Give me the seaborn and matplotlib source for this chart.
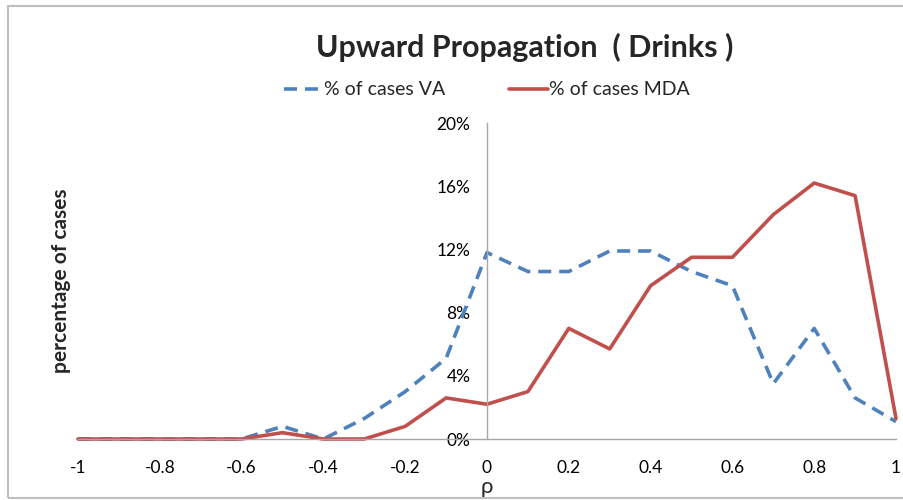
import numpy as np
import pandas as pd
import matplotlib
matplotlib.use("Agg")
import matplotlib.pyplot as plt
from matplotlib.ticker import PercentFormatter
from matplotlib.patches import Rectangle
import seaborn as sns

# data
rho = [-1.0, -0.9, -0.8, -0.7, -0.6, -0.5, -0.4, -0.3, -0.2, -0.1, 0.0,
       0.1, 0.2, 0.3, 0.4, 0.5, 0.6, 0.7, 0.8, 0.9, 1.0]
va_pct = [0.0, 0.0, 0.0, 0.0, 0.0, 0.8, 0.0, 1.3, 3.0, 5.1, 11.8,
          10.6, 10.6, 11.9, 11.9, 10.6, 9.7, 3.5, 7.0, 2.6, 1.1]
mda_pct = [0.0, 0.0, 0.0, 0.0, 0.0, 0.4, 0.0, 0.0, 0.8, 2.6, 2.2,
           3.0, 7.0, 5.7, 9.7, 11.5, 11.5, 14.2, 16.2, 15.4, 1.3]
x_ticks = [-1, -0.8, -0.6, -0.4, -0.2, 0, 0.2, 0.4, 0.6, 0.8, 1]
x_labels = ["-1", "-0.8", "-0.6", "-0.4", "-0.2", "0", "0.2", "0.4", "0.6", "0.8", "1"]
y_ticks = [0, 0.04, 0.08, 0.12, 0.16, 0.20]

df = pd.DataFrame({
    "rho": rho,
    "va": np.array(va_pct) / 100,
    "mda": np.array(mda_pct) / 100,
})

sns.set_style("white")
plt.rcParams["font.family"] = ["Lato", "DejaVu Sans"]

blue = "#4F81BD"
red = "#C0504D"
grey = "#A6A6A6"

fig = plt.figure(figsize=(9.04, 5.0), dpi=100)
ax = fig.add_axes([78 / 904, 1 - 439 / 500, 818 / 904, 316 / 500])

sns.lineplot(data=df, x="rho", y="va", ax=ax, color=blue, linewidth=2.6,
             label="% of cases VA", clip_on=False)
sns.lineplot(data=df, x="rho", y="mda", ax=ax, color=red, linewidth=2.6,
             label="% of cases MDA", clip_on=False)
ax.lines[0].set_dashes((3.6, 2.2))
ax.lines[0].set_dash_capstyle("butt")

ax.set_xlim(-1, 1)
ax.set_ylim(0, 0.2)
ax.set_xticks(x_ticks)
ax.set_xticklabels(x_labels)
ax.set_yticks(y_ticks)
ax.yaxis.set_major_formatter(PercentFormatter(1, decimals=0))

for s in ["top", "right"]:
    ax.spines[s].set_visible(False)
ax.spines["left"].set_position(("data", 0))
for s in ["left", "bottom"]:
    ax.spines[s].set_color(grey)
    ax.spines[s].set_linewidth(1.0)

ax.tick_params(axis="x", length=0, pad=15, labelsize=12.5, colors="black")
ax.tick_params(axis="y", length=0, pad=12, labelsize=12.5, colors="black")

ax.set_xlabel("ρ", fontsize=16)
ax.xaxis.set_label_coords(0.5, -0.12)
ax.set_ylabel("percentage of cases", fontsize=15, fontweight="bold")
ax.yaxis.set_label_coords(-0.008, 0.5)

fig.text(525 / 904, 1 - 47 / 500, "Upward Propagation  ( Drinks )",
         ha="center", va="center", fontsize=22, fontweight="bold")

ax.legend(loc="center", bbox_to_anchor=(487 / 904, 1 - 90 / 500),
          bbox_transform=fig.transFigure, ncol=2, frameon=False,
          fontsize=14, handlelength=2.0, handletextpad=0.05,
          columnspacing=3.3)

# chart-area border like the spreadsheet export
fig.patches.append(Rectangle((8 / 904, 2 / 500), 1.0, 492 / 500,
                             transform=fig.transFigure, fill=False,
                             edgecolor="#BFBFBF", linewidth=1.5))

fig.savefig("out.png", dpi=100)
